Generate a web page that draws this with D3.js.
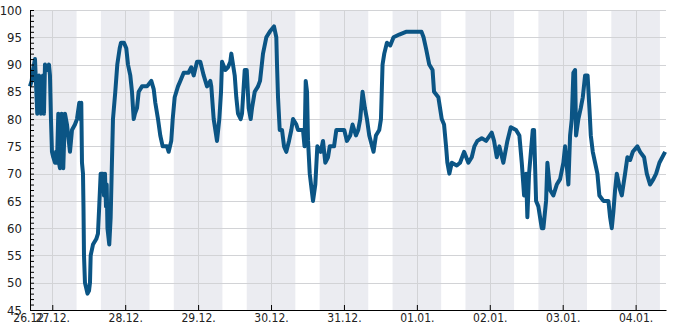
<!DOCTYPE html>
<html>
<head>
<meta charset="utf-8">
<script src="https://cdn.jsdelivr.net/npm/d3@7"></script>
<style>
  body { margin: 0; background: #fff; }
  svg { display: block; }
  .axis text { font-family: "DejaVu Sans Condensed", "Liberation Sans", sans-serif; fill: #222; }
</style>
</head>
<body>
<svg id="chart" width="685" height="330"></svg>
<script>
// hours since 26.12. 00:00 and the reading at that time
var hours = [16.66, 17.22, 17.65, 18.31, 19.06, 19.62, 20.28, 20.94, 21.27, 21.6, 22.26, 22.91, 23.24, 23.57, 23.9,
  24.33, 24.89, 25.22, 25.55, 25.98, 26.2, 26.53, 27.09, 27.62, 28.18, 28.84, 29.83, 30.49, 31.47, 32.13, 32.89,
  33.28, 33.55, 33.78, 34.11, 34.27, 34.44, 34.76, 35.19, 35.59, 36.08, 36.41, 36.64, 37.4, 38.48, 39.04, 39.37,
  39.93, 40.69, 41.02, 41.35, 41.68, 41.91, 42.17, 42.76, 43.22, 43.55, 43.98, 44.74, 45.4, 46.19, 46.62, 47.6,
  48.36, 48.92, 49.68, 50.24, 50.8, 51.22, 51.88, 52.44, 53.53, 55.18, 56.59, 57.38, 57.91, 58.8, 59.55, 60.34,
  61.76, 62.32, 63.17, 63.64, 64.29, 65.38, 66.14, 67.26, 68.84, 69.76, 70.55, 71.64, 72.72, 73.84, 74.93, 76.01,
  76.34, 77.13, 78.22, 78.98, 79.54, 79.87, 80.95, 81.84, 82.6, 82.93, 84.05, 84.57, 85.13, 86.02, 86.45, 87.34,
  88.0, 88.65, 89.31, 89.74, 90.63, 91.72, 92.38, 93.36, 94.45, 95.57, 96.98, 97.74, 97.97, 98.3, 98.86, 99.62,
  100.28, 101.03, 101.92, 102.68, 103.24, 104.33, 104.88, 106.53, 107.02, 107.42, 107.85, 108.18, 108.74, 109.82,
  110.58, 111.24, 112.36, 113.11, 113.87, 114.76, 115.32, 116.74, 117.49, 119.01, 120.1, 120.98, 122.07, 122.83,
  123.95, 124.7, 125.36, 126.12, 126.91, 127.57, 128.33, 129.74, 130.53, 131.62, 132.18, 132.71, 133.27, 134.15,
  135.24, 136.33, 138.2, 140.41, 145.54, 146.2, 146.99, 148.08, 149.16, 149.66, 151.07, 151.63, 152.19, 152.95,
  153.61, 154.04, 154.7, 155.49, 157.13, 158.22, 159.54, 160.95, 162.07, 162.93, 163.91, 165.36, 166.78, 168.65,
  169.41, 170.3, 171.15, 172.47, 173.79, 174.91, 176.65, 177.74, 178.53, 179.29, 179.95, 180.37, 180.93, 182.15,
  182.58, 183.24, 183.99, 185.11, 185.64, 186.53, 186.96, 187.85, 188.93, 190.05, 191.14, 192.22, 192.78, 193.87,
  194.43, 194.99, 195.51, 196.07, 196.4, 197.16, 197.95, 198.61, 199.37, 200.19, 200.79, 201.25, 201.9, 202.66,
  203.42, 204.07, 205.39, 207.04, 207.6, 208.16, 208.68, 209.24, 209.8, 210.89, 211.45, 212.53, 213.29, 214.18,
  215.07, 216.58, 217.47, 218.79, 219.68, 220.77, 221.86, 222.75, 223.83, 225.71];
var values = [86, 87, 89, 91, 81, 88, 81, 88, 81, 90, 89, 90, 88, 80, 74,
  73, 72, 74, 72, 81, 72, 71, 81, 71, 81, 79, 74, 78, 79, 80, 83,
  80, 83, 72, 70, 64, 55, 50, 49, 48, 48.5, 50, 55, 57, 58, 59, 63,
  70, 70, 66, 70, 64, 68, 60, 57, 62, 70, 80, 85, 90, 93, 94, 94,
  93, 90, 88, 85, 80, 81, 82, 85, 86, 86, 87, 85.5, 83, 80, 77, 75,
  75, 74, 76, 80, 84, 86, 87, 88.5, 88.5, 89.5, 88, 90.5, 90.5, 88, 86, 87,
  86, 80, 76, 80, 85, 90.5, 89, 89.5, 90.5, 92, 88, 84, 81, 80, 81, 89,
  89, 82, 80, 82, 85, 86, 87, 92, 95, 96, 97, 95, 90, 84, 78, 78,
  75, 74, 76, 78, 80, 79, 78, 78, 75, 87, 85, 76, 70, 65,
  68, 75, 74, 76, 72, 73, 75, 75, 78, 78, 78, 76, 77, 79,
  77, 78, 80, 85, 82, 80, 77, 74, 77, 78, 80, 90, 92, 94,
  93.5, 95, 95.5, 96, 96, 95, 93, 90, 89, 85, 84, 82, 80, 79,
  75, 72, 70, 72, 71.5, 72, 74, 72, 73, 75, 76, 76.5, 76, 77.5,
  76, 73, 75, 72, 76, 78.5, 78, 77, 72, 66, 70, 62, 70, 78,
  78, 65, 64, 60, 60, 65, 72, 67, 66, 68, 69, 72, 75, 68,
  77, 80, 88.5, 89, 77, 80, 82, 84, 88, 88, 82, 77, 74, 72,
  70, 66, 65, 65, 62, 60, 63, 67, 70, 67, 66, 70, 73, 72.5,
  74, 75, 74, 73, 70, 68, 69, 70, 72, 74];
var startHour = 16.67, endHour = 226;
var dayCount = 10;            // 25.12. .. 04.01., used for night bands and day ticks
var nightFrom = 16, nightTo = 32;   // shaded 16:00 -> 08:00 next day
var yTicksMajor = [45, 50, 55, 60, 65, 70, 75, 80, 85, 90, 95, 100];

var base = new Date(2019, 11, 26);
function at(h) { return new Date(base.getTime() + h * 3600e3); }

var data = hours.map(function(h, i) { return { t: at(h), v: values[i] }; });

var pL = 30, pR = 666, pT = 10, pB = 310;
var svg = d3.select('#chart');

var x = d3.scaleTime().domain([at(startHour), at(endHour)]).range([pL, pR]);
var y = d3.scaleLinear().domain([45, 100]).range([pB, pT]);

// night bands
var bands = d3.range(-1, dayCount - 1).map(function(d) {
  return [Math.max(d * 24 + nightFrom, startHour), Math.min(d * 24 + nightTo, endHour)];
}).filter(function(b) { return b[1] > b[0]; });

svg.append('g').selectAll('rect')
  .data(bands)
  .enter()
  .append('rect')
    .attr('x', function(b) { return x(at(b[0])); })
    .attr('width', function(b) { return x(at(b[1])) - x(at(b[0])); })
    .attr('y', pT)
    .attr('height', pB - pT)
    .attr('fill', '#ebecf1');

var dayTicks = [at(startHour)].concat(d3.range(1, dayCount).map(function(d) { return at(d * 24); }));

// grid
svg.append('g').selectAll('line')
  .data(yTicksMajor)
  .enter()
  .append('line')
    .attr('x1', pL).attr('x2', pR)
    .attr('y1', function(d) { return Math.round(y(d)) + 0.5; })
    .attr('y2', function(d) { return Math.round(y(d)) + 0.5; })
    .attr('stroke', '#d2d3d6');

svg.append('g').selectAll('line')
  .data(dayTicks.slice(1))
  .enter()
  .append('line')
    .attr('x1', function(d) { return Math.round(x(d)) + 0.5; })
    .attr('x2', function(d) { return Math.round(x(d)) + 0.5; })
    .attr('y1', pT).attr('y2', pB)
    .attr('stroke', '#d2d3d6');

// the series
var line = d3.line()
  .x(function(d) { return x(d.t); })
  .y(function(d) { return y(d.v); });

svg.append('path')
  .datum(data)
  .attr('d', line)
  .attr('fill', 'none')
  .attr('stroke', '#0b5585')
  .attr('stroke-width', 4)
  .attr('stroke-linejoin', 'round');

// axes
var fmt = d3.timeFormat('%d.%m.');
var xAxis = svg.append('g')
  .attr('class', 'axis')
  .attr('transform', 'translate(0,' + pB + ')')
  .call(d3.axisBottom(x).tickValues(dayTicks).tickFormat(fmt).tickSizeInner(-5).tickSizeOuter(0).tickPadding(3));
xAxis.selectAll('text').attr('font-size', 12).attr('dy', '0.72em');

var yAxis = svg.append('g')
  .attr('class', 'axis')
  .attr('transform', 'translate(' + pL + ',0)')
  .call(d3.axisLeft(y).tickValues(d3.range(45, 101)).tickSizeInner(-4).tickSizeOuter(0).tickPadding(8)
    .tickFormat(function(d) { return d % 5 === 0 ? d : ''; }));
yAxis.selectAll('text').attr('font-size', 13);

svg.selectAll('.axis .domain').attr('stroke', '#000');
svg.selectAll('.axis .tick line').attr('stroke', '#000');
</script>
</body>
</html>
